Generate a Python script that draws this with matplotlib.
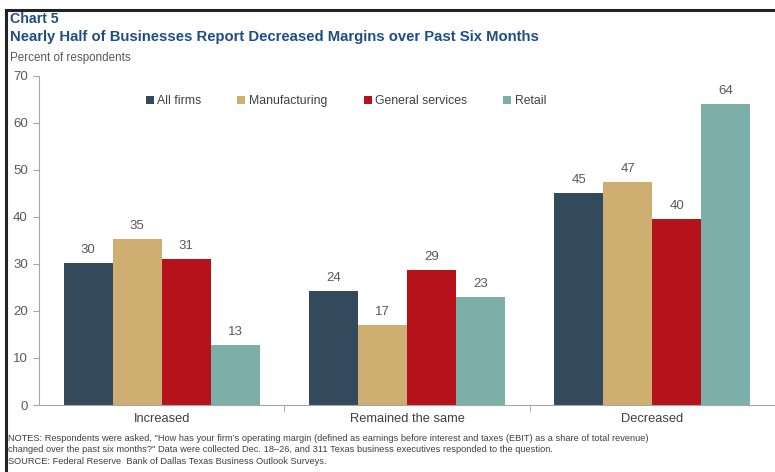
import numpy as np
import matplotlib
matplotlib.use('Agg')
import matplotlib.pyplot as plt
from matplotlib.lines import Line2D

categories = ['Increased', 'Remained the same', 'Decreased']
series = ['All firms', 'Manufacturing', 'General services', 'Retail']
all_firms = [30.1, 24.3, 45.1]
manufacturing = [35.2, 17.0, 47.3]
general_services = [31.1, 28.7, 39.6]
retail = [12.7, 22.9, 63.9]
yticks = [0, 10, 20, 30, 40, 50, 60, 70]

COLORS = ['#33495C', '#CFAE72', '#B5121C', '#7BAFA8']
TITLE_BLUE = '#1F4E86'
GRAY = '#595959'

plt.rcParams.update({'font.family': ['Liberation Sans', 'DejaVu Sans']})

fig = plt.figure(figsize=(7.75, 4.72), dpi=100)
ax = fig.add_axes([39/775, 67/472, 1 - 39/775, 329.3/472])

values = [all_firms, manufacturing, general_services, retail]
x = np.arange(len(categories))
w = 0.2
for i, (name, vals) in enumerate(zip(series, values)):
    xs = x + (i - 1.5) * w
    ax.bar(xs, vals, w, color=COLORS[i], label=name, linewidth=0)
    for xi, v in zip(xs, vals):
        ax.text(xi, v + 1.5, f'{v:.0f}', ha='center', va='bottom', fontsize=9.5, color=GRAY)

ax.set_xlim(-0.5, 2.5)
ax.set_ylim(0, 70)
ax.set_yticks(yticks)
ax.set_yticklabels([str(t) for t in yticks], fontsize=9.5, color=GRAY)
ax.set_xticks(x)
ax.set_xticklabels(categories, fontsize=9.3, color='#404040')
ax.tick_params(axis='x', length=0, pad=6)
ax.tick_params(axis='y', length=4, color='#A6A6A6', pad=4)
ax.set_xticks([0.5, 1.5], minor=True)
ax.tick_params(axis='x', which='minor', length=5, color='#A6A6A6', direction='out')
for s in ['top', 'right']:
    ax.spines[s].set_visible(False)
for s in ['left', 'bottom']:
    ax.spines[s].set_color('#A6A6A6')
    ax.spines[s].set_linewidth(0.8)

handles = [Line2D([], [], marker='s', linestyle='none', markersize=5.5,
                  markerfacecolor=c, markeredgewidth=0) for c in COLORS]
ax.legend(handles, series, loc='center', bbox_to_anchor=((346 - 39) / 736, 0.923), ncol=4,
          frameon=False, fontsize=8.8, handlelength=0.6, handletextpad=0.3,
          columnspacing=3.0, labelcolor='#404040')

fig.text(10/775, 1 - 19/472, 'Chart 5', fontsize=10.2, fontweight='bold',
         color=TITLE_BLUE, va='center', ha='left')
fig.text(10/775, 1 - 37/472, 'Nearly Half of Businesses Report Decreased Margins over Past Six Months',
         fontsize=10.7, fontweight='bold', color=TITLE_BLUE, va='center', ha='left')
fig.text(10/775, 1 - 58/472, 'Percent of respondents', fontsize=8.4, color=GRAY,
         va='center', ha='left')

notes = ('NOTES: Respondents were asked, "How has your firm\u2019s operating margin (defined as earnings '
         'before interest and taxes (EBIT) as a share of total revenue)\n'
         'changed over the past six months?" Data were collected Dec. 18\u201326, and 311 Texas '
         'business executives responded to the question.\n'
         'SOURCE: Federal Reserve  Bank of Dallas Texas Business Outlook Surveys.')
fig.text(8/775, 1 - 434/472, notes, fontsize=6.7, color='#404040', va='top', ha='left',
         linespacing=1.35)

# frame lines (left and top) as in the screenshot
fig.add_artist(Line2D([6/775, 6/775], [0, 1 - 10/472], color='#222222', linewidth=2.2))
fig.add_artist(Line2D([6/775, 1], [1 - 10/472, 1 - 10/472], color='#222222', linewidth=2.2))

fig.savefig('out.png', dpi=100)
